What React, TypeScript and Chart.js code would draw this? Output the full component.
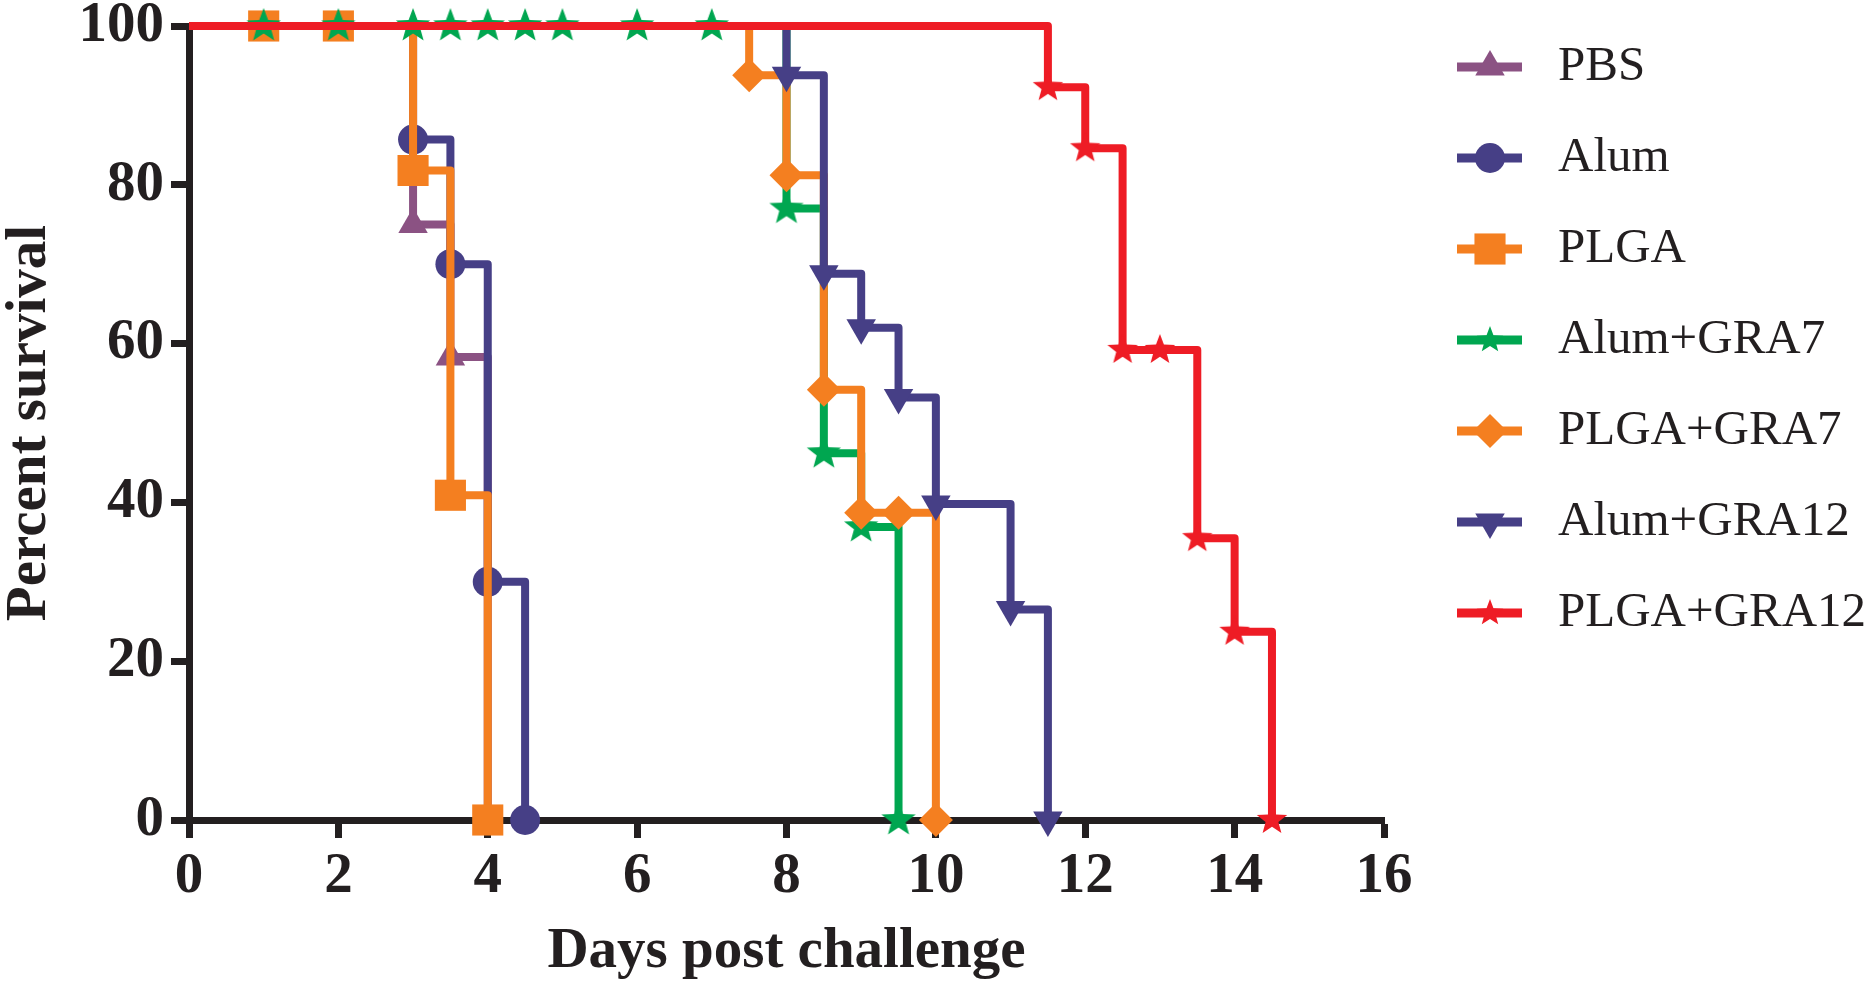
import { useEffect, useRef } from "react";
import { Chart, registerables } from "chart.js";
import type { ChartConfiguration, Plugin } from "chart.js";
import { drawPoint } from "chart.js/helpers";

Chart.register(...registerables);

// Kaplan-Meier curves (day, % survival)
const seriesNames = [
  "PBS",
  "Alum",
  "PLGA",
  "Alum+GRA7",
  "PLGA+GRA7",
  "Alum+GRA12",
  "PLGA+GRA12",
];

const pbsDays = [0, 3, 3.5, 4];
const pbsSurvival = [100, 75, 58.3, 0];

const alumDays = [0, 3, 3.5, 4, 4.5];
const alumSurvival = [100, 85.7, 70, 30, 0];

const plgaDays = [0, 1, 2, 3, 3.5, 4];
const plgaSurvival = [100, 100, 100, 81.8, 40.9, 0];

const alumGra7Days = [0, 1, 2, 3, 3.5, 4, 4.5, 5, 6, 7, 8, 8.5, 9, 9.5];
const alumGra7Survival = [100, 100, 100, 100, 100, 100, 100, 100, 100, 100, 77, 46.2, 36.9, 0];

const plgaGra7Days = [0, 7.5, 8, 8.5, 9, 9.5, 10];
const plgaGra7Survival = [100, 93.8, 81.2, 54.2, 38.7, 38.7, 0];

const alumGra12Days = [0, 8, 8.5, 9, 9.5, 10, 11, 11.5];
const alumGra12Survival = [100, 93.8, 68.8, 62, 53.2, 39.8, 26.5, 0];

const plgaGra12Days = [0, 11.5, 12, 12.5, 13, 13.5, 14, 14.5];
const plgaGra12Survival = [100, 92.3, 84.6, 59.2, 59.2, 35.5, 23.7, 0];

const xTicks = [0, 2, 4, 6, 8, 10, 12, 14, 16];
const yTicks = [0, 20, 40, 60, 80, 100];

const allDays = [pbsDays, alumDays, plgaDays, alumGra7Days, plgaGra7Days, alumGra12Days, plgaGra12Days];
const allSurvival = [
  pbsSurvival,
  alumSurvival,
  plgaSurvival,
  alumGra7Survival,
  plgaGra7Survival,
  alumGra12Survival,
  plgaGra12Survival,
];

const colors = ["#8B5283", "#463F86", "#F47F20", "#00A650", "#F47F20", "#463F86", "#EE1C25"];

const FONT = '"Liberation Serif", "Times New Roman", serif';
const INK = "#231F20";

function makeStar(color: string, R: number) {
  const size = Math.ceil(R * 2 + 2);
  const c = document.createElement("canvas");
  c.width = size;
  c.height = size;
  const g = c.getContext("2d")!;
  const cx = size / 2;
  const cy = size / 2;
  g.fillStyle = color;
  g.beginPath();
  for (let k = 0; k < 10; k++) {
    const ang = -Math.PI / 2 + (k * Math.PI) / 5;
    const rr = k % 2 === 0 ? R : R * 0.42;
    g.lineTo(cx + rr * Math.cos(ang), cy + rr * Math.sin(ang));
  }
  g.closePath();
  g.fill();
  return c;
}

export default function App() {
  const canvasRef = useRef<HTMLCanvasElement>(null);
  const chartRef = useRef<Chart | null>(null);

  useEffect(() => {
    if (!canvasRef.current) return;

    const markers: { style: any; legend: any; radius: number; rotation: number }[] = [
      { style: "triangle", legend: "triangle", radius: 17, rotation: 0 },
      { style: "circle", legend: "circle", radius: 15, rotation: 0 },
      { style: "rect", legend: "rect", radius: 22, rotation: 0 },
      { style: makeStar(colors[3], 18), legend: makeStar(colors[3], 14), radius: 17, rotation: 0 },
      { style: "rectRot", legend: "rectRot", radius: 17, rotation: 0 },
      { style: "triangle", legend: "triangle", radius: 17, rotation: 180 },
      { style: makeStar(colors[6], 16), legend: makeStar(colors[6], 14), radius: 17, rotation: 0 },
    ];

    const legendPlugin: Plugin<"line"> = {
      id: "kmLegend",
      afterDatasetsDraw(chart) {
        const ctx = chart.ctx;
        seriesNames.forEach((name, i) => {
          const y = 67 + i * 91;
          ctx.save();
          ctx.strokeStyle = colors[i];
          ctx.lineWidth = 9;
          ctx.beginPath();
          ctx.moveTo(1457, y);
          ctx.lineTo(1522, y);
          ctx.stroke();
          ctx.fillStyle = colors[i];
          drawPoint(
            ctx,
            {
              pointStyle: markers[i].legend,
              rotation: markers[i].rotation,
              radius: markers[i].radius,
              borderWidth: 0,
            },
            1490,
            y
          );
          ctx.fillStyle = INK;
          ctx.font = `49px ${FONT}`;
          ctx.textBaseline = "middle";
          ctx.textAlign = "left";
          ctx.fillText(name, 1558, y);
          ctx.restore();
        });
      },
    };

    const config: ChartConfiguration<"line"> = {
      type: "line",
      data: {
        datasets: seriesNames.map((name, i) => ({
          label: name,
          data: allDays[i].map((d, j) => ({ x: d, y: allSurvival[i][j] })),
          borderColor: colors[i],
          backgroundColor: colors[i],
          borderWidth: 8,
          borderJoinStyle: "round" as const,
          stepped: "before" as const,
          tension: 0,
          fill: false,
          clip: false as any,
          order: -i,
          pointStyle: markers[i].style,
          pointRotation: markers[i].rotation,
          pointRadius: allDays[i].map((_, j) => (j === 0 ? 0 : markers[i].radius)),
          pointBorderWidth: 0,
          pointBackgroundColor: colors[i],
          pointBorderColor: colors[i],
        })),
      },
      options: {
        responsive: false,
        animation: false,
        events: [],
        layout: { padding: { left: 0, top: 26, right: 490, bottom: 0 } },
        plugins: {
          legend: { display: false },
          tooltip: { enabled: false },
        },
        scales: {
          x: {
            type: "linear",
            min: 0,
            max: 16,
            afterBuildTicks: (scale) => {
              scale.ticks = xTicks.map((v) => ({ value: v }));
            },
            afterFit: (scale: any) => {
              scale.height = 170;
              scale.paddingLeft = 0;
              scale.paddingRight = 0;
            },
            border: { display: true, color: INK, width: 7 },
            grid: {
              drawOnChartArea: false,
              drawTicks: true,
              tickLength: 18,
              tickWidth: 7,
              tickColor: INK,
            },
            ticks: {
              autoSkip: false,
              maxRotation: 0,
              padding: 5,
              color: INK,
              font: { family: FONT, size: 57, weight: "bold" },
            },
            title: {
              display: true,
              text: "Days post challenge",
              color: INK,
              font: { family: FONT, size: 57, weight: "bold", lineHeight: 1 },
              padding: { top: 0, bottom: 9 },
            },
          },
          y: {
            type: "linear",
            min: 0,
            max: 100,
            afterBuildTicks: (scale) => {
              scale.ticks = yTicks.map((v) => ({ value: v }));
            },
            afterFit: (scale: any) => {
              scale.width = 189;
              scale.paddingTop = 0;
              scale.paddingBottom = 0;
            },
            border: { display: true, color: INK, width: 7 },
            grid: {
              drawOnChartArea: false,
              drawTicks: true,
              tickLength: 18,
              tickWidth: 7,
              tickColor: INK,
            },
            ticks: {
              padding: 7,
              color: INK,
              font: { family: FONT, size: 57, weight: "bold" },
            },
            title: {
              display: true,
              text: "Percent survival",
              color: INK,
              font: { family: FONT, size: 57, weight: "bold", lineHeight: 1 },
              padding: { top: 2, bottom: 0 },
            },
          },
        },
      },
      plugins: [legendPlugin],
    };

    chartRef.current = new Chart(canvasRef.current, config);

    return () => {
      if (chartRef.current) {
        chartRef.current.destroy();
        chartRef.current = null;
      }
    };
  }, []);

  return (
    <div style={{ position: "absolute", left: 0, top: 0, width: 1874, height: 990, background: "#fff" }}>
      <canvas ref={canvasRef} width={1874} height={990} style={{ display: "block" }}></canvas>
    </div>
  );
}
